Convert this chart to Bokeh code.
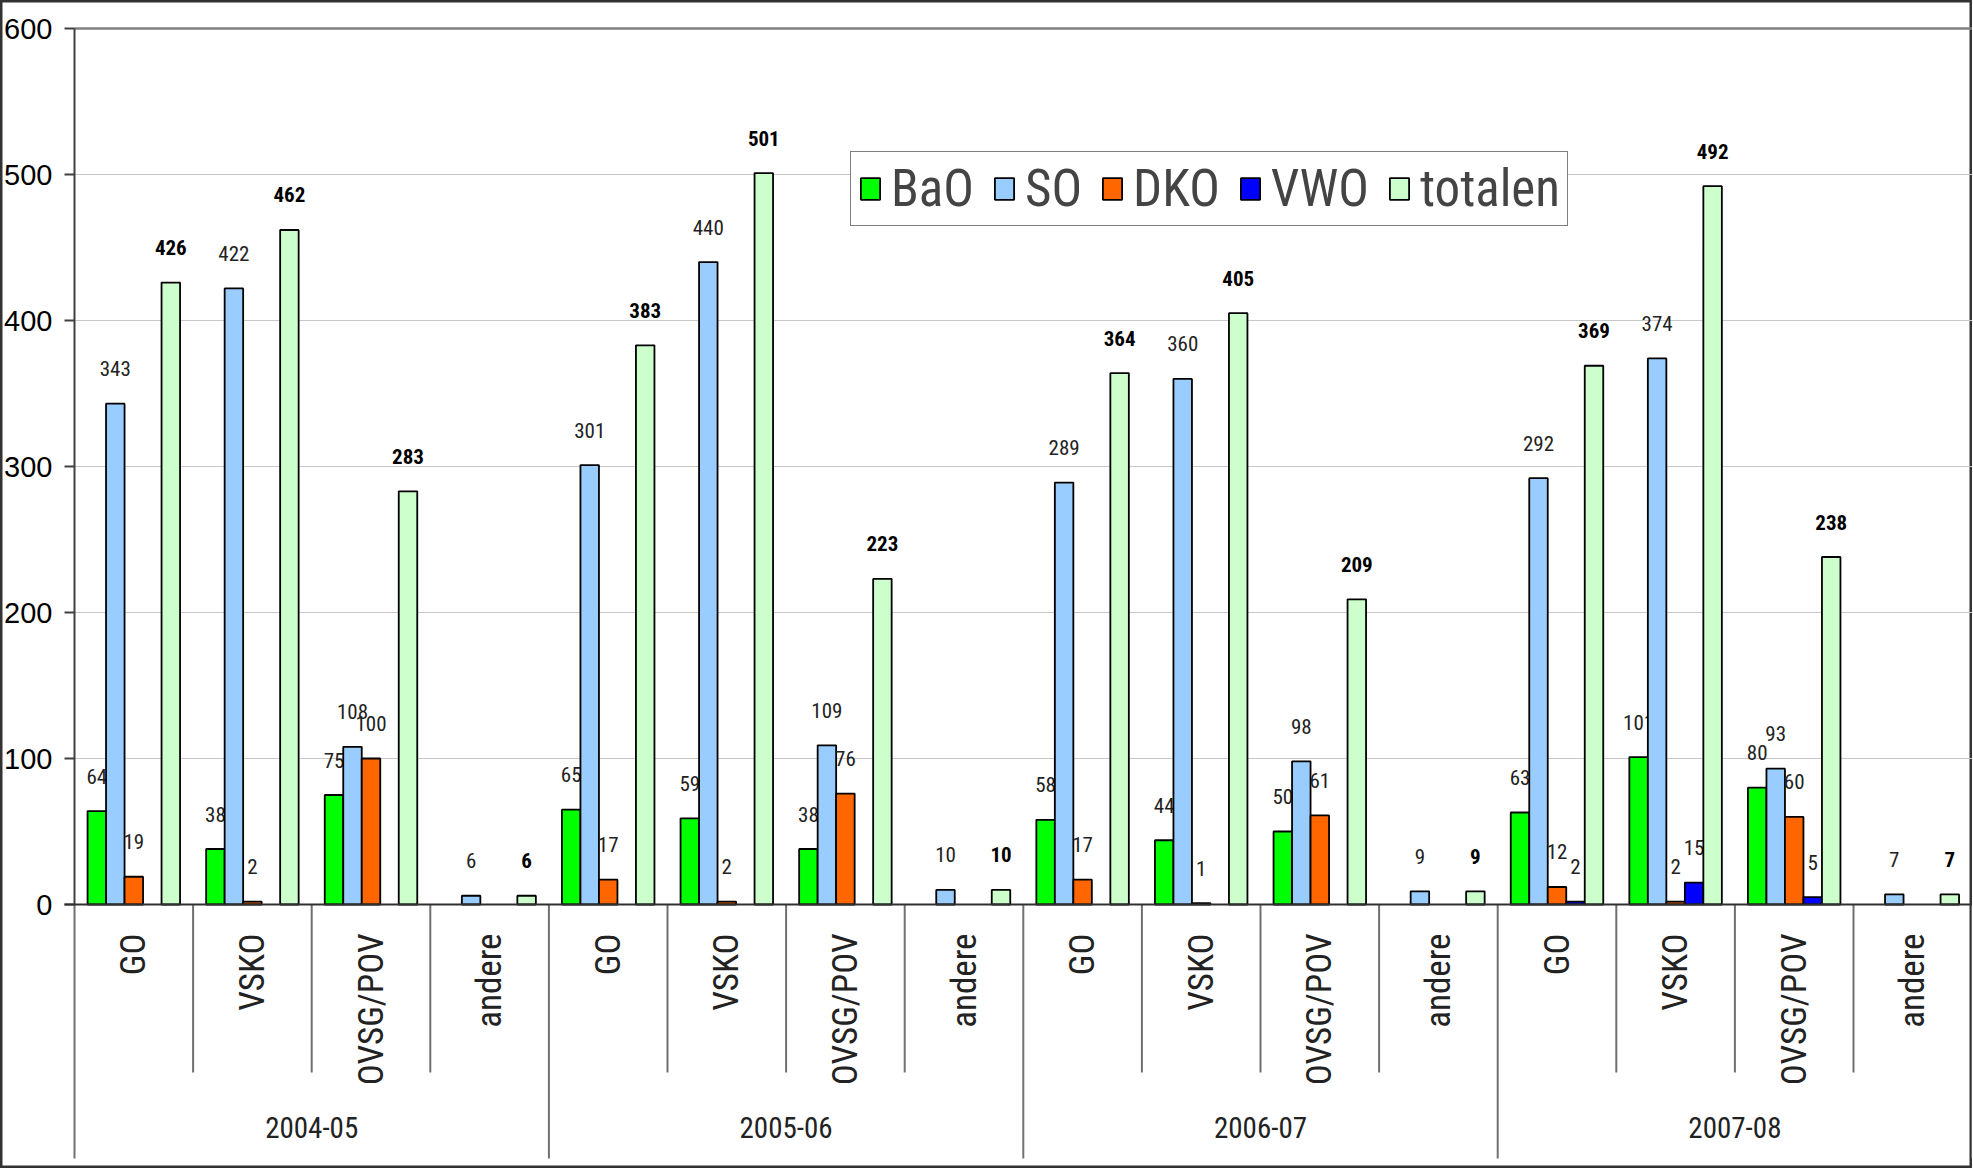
import numpy as np
from bokeh.plotting import figure
from bokeh.models import Range1d, ColumnDataSource, Legend, LegendItem
from bokeh.core.properties import value
from bokeh.embed import file_html
from bokeh.resources import INLINE

# ---------------- data ----------------
years = ["2004-05", "2005-06", "2006-07", "2007-08"]
instellingen = ["GO", "VSKO", "OVSG/POV", "andere"]
series_names = ["BaO", "SO", "DKO", "VWO", "totalen"]

BaO = [64, 38, 75, None, 65, 59, 38, None, 58, 44, 50, None, 63, 101, 80, None]
SO = [343, 422, 108, 6, 301, 440, 109, 10, 289, 360, 98, 9, 292, 374, 93, 7]
DKO = [19, 2, 100, None, 17, 2, 76, None, 17, 1, 61, None, 12, 2, 60, None]
VWO = [None, None, None, None, None, None, None, None, None, None, None, None, 2, 15, 5, None]
totalen = [426, 462, 283, 6, 383, 501, 223, 10, 364, 405, 209, 9, 369, 492, 238, 7]

y_ticks = [0, 100, 200, 300, 400, 500, 600]

colors = ["#00FF00", "#99CCFF", "#FF6600", "#0000FF", "#CCFFCC"]
series = [BaO, SO, DKO, VWO, totalen]

# ---------------- geometry ----------------
W, H = 1972, 1168
X0 = 74.0     # plot-area left (px)
GW = 118.6    # width of one category
Y0 = 904.0    # pixel row of value 0
PPU = 1.46    # pixels per unit


def xd(px):
    return (px - X0) / GW


def yd(py):
    return (Y0 - py) / PPU


NARROW = "Roboto Condensed"
SANS = "Liberation Sans"

p = figure(width=W, height=H,
           x_range=Range1d(xd(0), xd(W)),
           y_range=Range1d(yd(H), yd(0)),
           output_backend="svg", toolbar_location=None,
           x_axis_location=None, y_axis_location=None,
           min_border=0, min_border_left=0, min_border_right=0,
           min_border_top=0, min_border_bottom=0)
p.xgrid.visible = False
p.ygrid.visible = False
p.outline_line_color = "#333333"
p.outline_line_width = 4
p.background_fill_color = "white"
p.border_fill_color = "white"

n_cat = len(totalen)
centers = np.arange(n_cat) + 0.5
bw = 18.5 / GW
x_right = xd(W)

# gridlines
grid_vals = [v for v in y_ticks if 0 < v < max(y_ticks)]
p.segment(x0=[0] * len(grid_vals), x1=[x_right] * len(grid_vals), y0=grid_vals, y1=grid_vals,
          line_color="#C8C8C8", line_width=1.2)
p.segment(x0=[0], x1=[x_right], y0=[max(y_ticks)], y1=[max(y_ticks)],
          line_color="#808080", line_width=2.5)

# separators below the category axis
sub_sep = [i for i in range(1, n_cat) if i % 4 != 0]
year_sep = [i for i in range(0, n_cat + 1, 4)]
p.segment(x0=sub_sep, x1=sub_sep, y0=[0] * len(sub_sep), y1=[yd(1072)] * len(sub_sep),
          line_color="#707070", line_width=2)
p.segment(x0=year_sep, x1=year_sep, y0=[0] * len(year_sep), y1=[yd(1158)] * len(year_sep),
          line_color="#707070", line_width=2)

# value axis line + ticks
p.segment(x0=[0], x1=[0], y0=[0], y1=[max(y_ticks)], line_color="#404040", line_width=2)
p.segment(x0=[xd(64)] * len(y_ticks), x1=[0] * len(y_ticks), y0=y_ticks, y1=y_ticks,
          line_color="#404040", line_width=2)
p.text(x=[xd(52)] * len(y_ticks), y=y_ticks, text=[str(v) for v in y_ticks],
       text_align="right", text_baseline="middle",
       text_font=value(SANS), text_font_size="29px", text_color="black")

# bars + data labels
renderers = []
for k, (name, vals, col) in enumerate(zip(series_names, series, colors)):
    xs = [centers[i] + (k - 2) * bw for i in range(n_cat) if vals[i] is not None]
    ys = [vals[i] for i in range(n_cat) if vals[i] is not None]
    src = ColumnDataSource(dict(x=xs, top=ys, label=[str(v) for v in ys]))
    r = p.vbar(x="x", top="top", bottom=0, width=bw, source=src,
               fill_color=col, line_color="black", line_width=1.8)
    renderers.append(r)
    p.text(x="x", y="top", text="label", source=src,
           text_align="center", text_baseline="middle", y_offset=-35,
           text_font=value(NARROW), text_font_size="21px",
           text_font_style="bold" if name == "totalen" else "normal",
           text_color="black" if name == "totalen" else "#222222")

# category axis line at zero
p.segment(x0=[xd(64)], x1=[x_right], y0=[0], y1=[0], line_color="#303030", line_width=2)

# category labels (rotated) and year labels
sub_labels = [instellingen[i % 4] for i in range(n_cat)]
p.text(x=list(centers), y=[yd(933)] * n_cat, text=sub_labels, angle=np.pi / 2,
       text_align="right", text_baseline="middle",
       text_font=value(NARROW), text_font_size="35px", text_color="#222222")
p.text(x=[4 * j + 2 for j in range(len(years))], y=[yd(1127)] * len(years), text=years,
       text_align="center", text_baseline="middle",
       text_font=value(NARROW), text_font_size="29px", text_color="#222222")

# legend
legend = Legend(items=[LegendItem(label=nm, renderers=[r]) for nm, r in zip(series_names, renderers)],
                orientation="horizontal", location=(850, H - 226),
                label_text_font=NARROW, label_text_font_size="51px",
                label_text_baseline="middle",
                glyph_width=24, glyph_height=27, label_standoff=9, spacing=18,
                padding=7, margin=0,
                border_line_color="black", border_line_width=1.5,
                background_fill_color="white", background_fill_alpha=1.0)
p.add_layout(legend)

open("out.html", "w").write(file_html(p, INLINE))
